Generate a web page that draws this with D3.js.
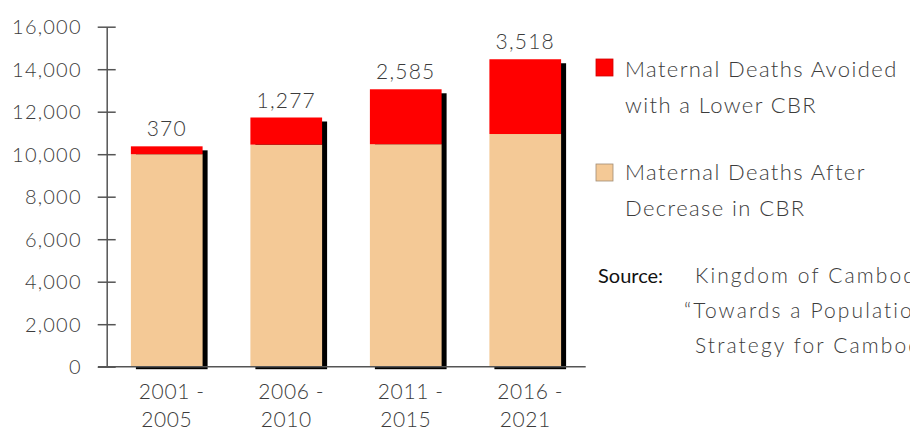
<!DOCTYPE html>
<html>
<head>
<meta charset="utf-8">
<script src="https://cdn.jsdelivr.net/npm/d3@7"></script>
<style>
  html, body { margin: 0; padding: 0; background: #fff; }
  svg { display: block; font-family: "Lato", "Open Sans", sans-serif; font-weight: 300; }
</style>
</head>
<body>
<svg id="chart" width="910" height="432"></svg>
<script>
// Five-year periods
const periods = ["2001 - 2005", "2006 - 2010", "2011 - 2015", "2016 - 2021"];
const periodLine1 = ["2001 -", "2006 -", "2011 -", "2016 -"];
const periodLine2 = ["2005", "2010", "2015", "2021"];
// Maternal deaths after decrease in CBR (base of each bar)
const deathsAfter = [10000, 10450, 10470, 10950];
// Maternal deaths avoided with a lower CBR (stacked on top)
const deathsAvoided = [370, 1277, 2585, 3518];
// Y-axis ticks
const yTicks = [0, 2000, 4000, 6000, 8000, 10000, 12000, 14000, 16000];

const legendItems = [
  { lines: ["Maternal Deaths Avoided", "with a Lower CBR"], color: "#ff0000" },
  { lines: ["Maternal Deaths After", "Decrease in CBR"], color: "#f4c996" }
];
const sourceLines = ["Kingdom of Cambodia,", "\u201CTowards a Population and Development", "Strategy for Cambodia\u201D"];

const svg = d3.select("#chart");
const textColor = "#3c3c3c";

const y = d3.scaleLinear().domain([0, 16000]).range([366.7, 26.7]);
const x = d3.scaleBand().domain(periods).range([107, 585]).paddingInner(0.4).paddingOuter(0.2);

const rows = periods.map((p, i) => ({
  period: p, after: deathsAfter[i], avoided: deathsAvoided[i], total: deathsAfter[i] + deathsAvoided[i]
}));

// Drop shadows behind the bars
svg.append("g").selectAll("rect").data(rows).join("rect")
  .attr("x", d => x(d.period) + 5)
  .attr("y", d => y(d.total) + 4)
  .attr("width", x.bandwidth())
  .attr("height", d => y(0) + 2.5 - (y(d.total) + 4))
  .attr("fill", "#000");

// Base segment
svg.append("g").selectAll("rect").data(rows).join("rect")
  .attr("x", d => x(d.period))
  .attr("y", d => y(d.after))
  .attr("width", x.bandwidth())
  .attr("height", d => y(0) - y(d.after))
  .attr("fill", "#f4c996");

// Avoided segment
svg.append("g").selectAll("rect").data(rows).join("rect")
  .attr("x", d => x(d.period))
  .attr("y", d => y(d.total))
  .attr("width", x.bandwidth())
  .attr("height", d => y(d.after) - y(d.total))
  .attr("fill", "#ff0000");

// Value labels above each bar
svg.append("g").selectAll("text").data(rows).join("text")
  .attr("x", d => x(d.period) + x.bandwidth() / 2)
  .attr("y", d => y(d.total) - 10)
  .attr("text-anchor", "middle")
  .attr("font-size", 21)
  .attr("letter-spacing", 1.2)
  .attr("fill", textColor)
  .text(d => d3.format(",")(d.avoided));

// Y axis with ticks crossing the line
const yAxis = d3.axisLeft(y).tickValues(yTicks).tickFormat(d3.format(",")).tickSize(0).tickPadding(25).tickSizeOuter(0);
const gy = svg.append("g").attr("transform", "translate(106.7,0)").call(yAxis);
gy.select(".domain").attr("stroke", "#555").attr("stroke-width", 1.5);
gy.selectAll(".tick line").remove();
gy.selectAll(".tick").append("line").attr("x1", -9).attr("x2", 9).attr("stroke", "#555").attr("stroke-width", 1.5);
gy.selectAll(".tick text").attr("font-size", 20).attr("fill", textColor).attr("letter-spacing", 1.2)
  .attr("font-family", "Lato, sans-serif").attr("font-weight", 300).attr("dy", "0.35em");

// Baseline
svg.append("line").attr("x1", 98).attr("x2", 585.7).attr("y1", y(0)).attr("y2", y(0))
  .attr("stroke", "#555").attr("stroke-width", 1.5);

// Category labels on two lines
const xl = svg.append("g").selectAll("g").data(periods).join("g");
xl.append("text")
  .attr("x", (d) => x(d) + x.bandwidth() / 2 + 5)
  .attr("y", 399)
  .attr("text-anchor", "middle").attr("font-size", 21).attr("letter-spacing", 0.6).attr("fill", textColor)
  .text((d, i) => periodLine1[i]);
xl.append("text")
  .attr("x", (d) => x(d) + x.bandwidth() / 2)
  .attr("y", 427)
  .attr("text-anchor", "middle").attr("font-size", 21).attr("letter-spacing", 0.6).attr("fill", textColor)
  .text((d, i) => periodLine2[i]);

// Legend
const legend = svg.append("g");
const legendTops = [59, 164];
const legendBaselines = [76.7, 180];
legendItems.forEach((item, i) => {
  legend.append("rect").attr("x", 596).attr("y", legendTops[i]).attr("width", 17).attr("height", 17)
    .attr("fill", item.color).attr("stroke", i === 0 ? "#d00000" : "#a08c74").attr("stroke-width", 0.8);
  item.lines.forEach((line, j) => {
    legend.append("text").attr("x", 625).attr("y", legendBaselines[i] + j * 36)
      .attr("font-size", 22).attr("letter-spacing", 1.4).attr("fill", textColor).text(line);
  });
});

// Source note
const src = svg.append("g");
src.append("text").attr("x", 598).attr("y", 283).attr("font-size", 20).attr("font-weight", 400)
  .attr("fill", "#111").text("Source:");
sourceLines.forEach((line, j) => {
  src.append("text").attr("x", j === 1 ? 684 : 695).attr("y", 283 + j * 35)
    .attr("font-size", 21).attr("letter-spacing", 2.1).attr("fill", textColor).text(line);
});
</script>
</body>
</html>
